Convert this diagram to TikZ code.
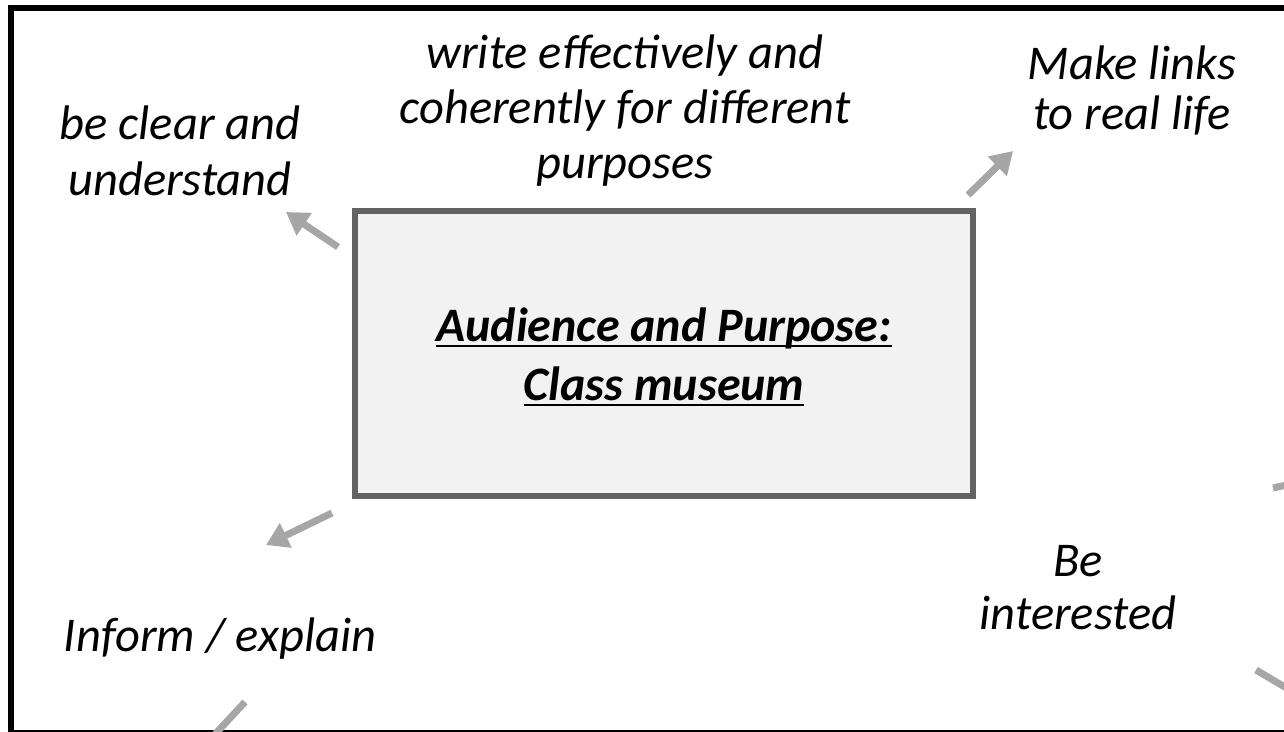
\documentclass[tikz,border=0pt]{standalone}
\usepackage{fontspec}
\setmainfont{Carlito}
\usetikzlibrary{arrows.meta}
\newsavebox{\myulbox}
\newcommand{\thickul}[1]{\sbox{\myulbox}{#1}\makebox[0pt][l]{\rule[-6.4pt]{\wd\myulbox}{2.8pt}}\usebox{\myulbox}}
\definecolor{arrowgray}{HTML}{A6A6A6}
\definecolor{boxedge}{HTML}{636363}
\definecolor{boxfill}{HTML}{F2F2F2}
\tikzset{
  lbl/.style={align=center, inner sep=0pt, anchor=base, font=\fontsize{48.5}{55}\selectfont\itshape},
  conn/.style={draw=arrowgray, line width=7pt, -{Triangle[length=22pt,width=26pt]}},
  stub/.style={draw=arrowgray, line width=7pt},
  mainbox/.style={draw=boxedge, fill=boxfill, line width=6pt, minimum width=618pt, minimum height=285pt, inner sep=0pt}
}
\begin{document}
\begin{tikzpicture}[x=1pt,y=-1pt]
\useasboundingbox (0,0) rectangle (1284,731);
\begin{scope}
\clip (0,0) rectangle (1284,731);
\draw[line width=6pt] (11,8) rectangle (1295,732.5);
\node[mainbox] (box) at (664,353.5) {};
\node[lbl, font=\fontsize{48}{59}\selectfont\bfseries\itshape] (title) at (664,400) {\thickul{Audience and Purpose:}\\\thickul{Class museum}};
\node[lbl] (write) at (625,178) {write effectively and\\coherently for different\\purposes};
\node[lbl, font=\fontsize{48.5}{50}\selectfont\itshape] (links) at (1132,129) {Make links\\to real life};
\node[lbl, font=\fontsize{48.5}{56}\selectfont\itshape] (clear) at (180,195) {be clear and\\understand};
\node[lbl] (inform) at (220,651) {Inform / explain};
\node[lbl, font=\fontsize{48.5}{53}\selectfont\itshape] (interest) at (1078,629) {Be\\interested};
\coordinate (a1s) at (338,247); \coordinate (a1e) at (286,212);
\coordinate (a2s) at (968,195); \coordinate (a2e) at (1013,151);
\coordinate (a3s) at (332,513); \coordinate (a3e) at (266,545);
\coordinate (a4s) at (245,702); \coordinate (a4e) at (205,745);
\coordinate (a5s) at (1273,488); \coordinate (a5e) at (1300,482);
\coordinate (a6s) at (1256,670); \coordinate (a6e) at (1300,696);
\draw[conn] (a1s) -- (a1e);
\draw[conn] (a2s) -- (a2e);
\draw[conn] (a3s) -- (a3e);
\draw[stub] (a4s) -- (a4e);
\draw[stub] (a5s) -- (a5e);
\draw[stub] (a6s) -- (a6e);
\end{scope}
\end{tikzpicture}
\end{document}
